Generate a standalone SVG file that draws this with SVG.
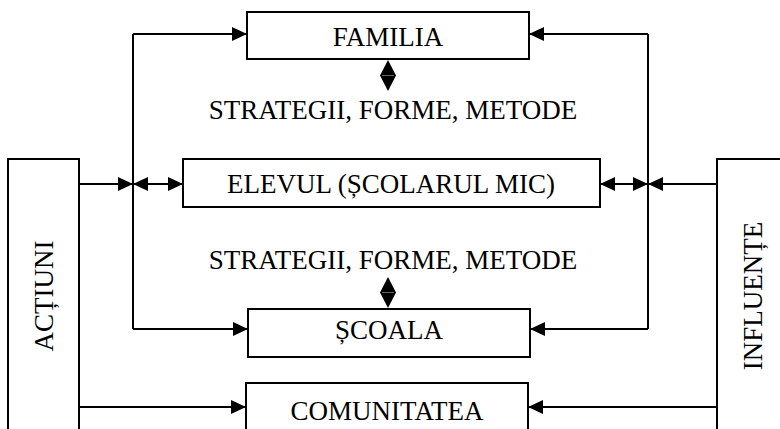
<svg xmlns="http://www.w3.org/2000/svg" width="780" height="429" viewBox="0 0 780 429">
  <style>
    .box { fill: #fff; stroke: #000; stroke-width: 2; }
    .lbl { font-family: "Liberation Serif", "Times New Roman", serif; font-size: 27px; fill: #000; text-anchor: middle; }
    .ln { fill: none; stroke: #000; stroke-width: 2; }
    .ah { marker-end: url(#head); }
    .dbl { marker-start: url(#tail); marker-end: url(#head); }
  </style>
  <defs>
    <marker id="head" markerUnits="userSpaceOnUse" markerWidth="15" markerHeight="16" refX="15" refY="8" orient="auto">
      <path d="M0,1 L15,8 L0,15 z" fill="#000"/>
    </marker>
    <marker id="tail" markerUnits="userSpaceOnUse" markerWidth="15" markerHeight="16" refX="0" refY="8" orient="auto">
      <path d="M15,1 L0,8 L15,15 z" fill="#000"/>
    </marker>
  </defs>
  <rect width="780" height="429" fill="#fff"/>

  <g id="actiuni">
    <rect class="box" x="8" y="159" width="71" height="290"/>
    <text class="lbl" transform="translate(53,296) rotate(-90)">ACȚIUNI</text>
  </g>
  <g id="influente">
    <rect class="box" x="717" y="159" width="90" height="290"/>
    <text class="lbl" transform="translate(762,296) rotate(-90)">INFLUENȚE</text>
  </g>
  <g id="familia">
    <rect class="box" x="247" y="12" width="282" height="47"/>
    <text class="lbl" x="388" y="46">FAMILIA</text>
  </g>
  <g id="elevul">
    <rect class="box" x="183" y="159" width="417" height="48"/>
    <text class="lbl" x="391" y="193">ELEVUL (ȘCOLARUL MIC)</text>
  </g>
  <g id="scoala">
    <rect class="box" x="248" y="309" width="282" height="48"/>
    <text class="lbl" x="389" y="339">ȘCOALA</text>
  </g>
  <g id="comunitatea">
    <rect class="box" x="246" y="383" width="282" height="60"/>
    <text class="lbl" x="387" y="420">COMUNITATEA</text>
  </g>
  <g id="strategii1">
    <text class="lbl" x="393" y="119">STRATEGII, FORME, METODE</text>
  </g>
  <g id="strategii2">
    <text class="lbl" x="393" y="269">STRATEGII, FORME, METODE</text>
  </g>

  <g id="connectors">
    <!-- left distribution line -->
    <path class="ln" d="M133,34 V329"/>
    <path class="ln ah" d="M133,34 H247"/>
    <path class="ln ah" d="M133,329 H248"/>
    <path class="ln ah" d="M79,184 H133"/>
    <path class="ln dbl" d="M133,184 H183"/>
    <path class="ln ah" d="M79,407 H246"/>
    <!-- right distribution line -->
    <path class="ln" d="M648,34 V329"/>
    <path class="ln ah" d="M648,34 H529"/>
    <path class="ln ah" d="M648,329 H530"/>
    <path class="ln ah" d="M717,184 H648"/>
    <path class="ln dbl" d="M648,184 H600"/>
    <path class="ln ah" d="M717,407 H528"/>
    <!-- two-way links to the strategy labels -->
    <polygon points="388,60 396,75.5 388,91 380,75.5" fill="#000"/>
    <line x1="382" y1="75.5" x2="394" y2="75.5" stroke="#666" stroke-width="1"/>
    <polygon points="388,277 396,292.5 388,308 380,292.5" fill="#000"/>
    <line x1="382" y1="292.5" x2="394" y2="292.5" stroke="#666" stroke-width="1"/>
  </g>
</svg>
